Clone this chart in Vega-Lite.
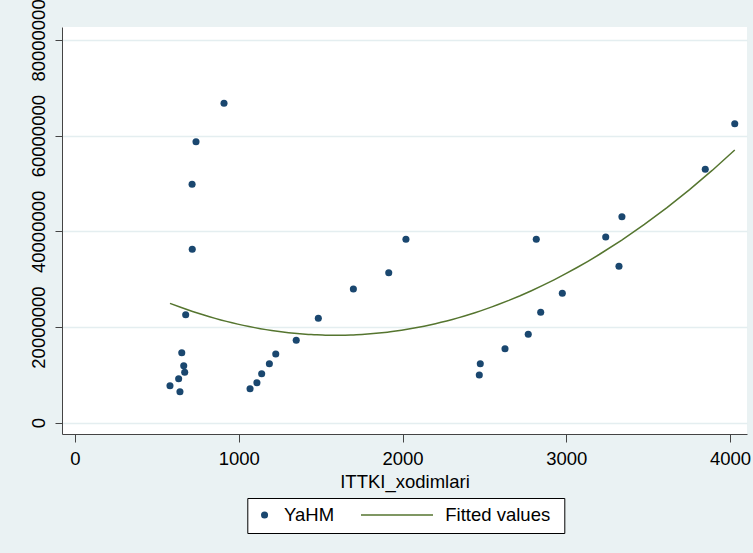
{
  "$schema": "https://vega.github.io/schema/vega-lite/v6.json",
  "autosize": "none",
  "width": 685,
  "height": 407,
  "padding": {"left": 62, "top": 27, "right": 6, "bottom": 119},
  "background": "#eaf2f3",
  "config": {
    "view": {"fill": "white", "stroke": null},
    "font": "Liberation Sans",
    "axis": {
      "labelFont": "Liberation Sans",
      "labelFontSize": 18.5,
      "labelColor": "#000",
      "titleFont": "Liberation Sans",
      "titleFontSize": 18.5,
      "titleFontWeight": "normal",
      "titleColor": "#000",
      "domainColor": "#444",
      "tickColor": "#444",
      "domainWidth": 1,
      "tickWidth": 1,
      "labelOverlap": false,
      "labelFlush": false
    },
    "legend": {
      "labelFont": "Liberation Sans",
      "labelFontSize": 18.5,
      "labelColor": "#000",
      "labelLimit": 300,
      "titleFont": "Liberation Sans",
      "titleFontSize": 18.5,
      "titleFontWeight": "normal",
      "titleLimit": 1000,
      "clipHeight": 18
    }
  },
  "data": {"values": [
    {"x": 910, "y": 66760000}, {"x": 739, "y": 58740000}, {"x": 715, "y": 49830000},
    {"x": 716, "y": 36250000}, {"x": 676, "y": 22580000}, {"x": 652, "y": 14630000},
    {"x": 664, "y": 11910000}, {"x": 670, "y": 10530000}, {"x": 633, "y": 9200000},
    {"x": 580, "y": 7730000}, {"x": 641, "y": 6480000}, {"x": 1069, "y": 7110000},
    {"x": 1111, "y": 8360000}, {"x": 1140, "y": 10240000}, {"x": 1187, "y": 12330000},
    {"x": 1226, "y": 14360000}, {"x": 1351, "y": 17220000}, {"x": 1486, "y": 21820000},
    {"x": 1700, "y": 27950000}, {"x": 1916, "y": 31350000}, {"x": 2021, "y": 38340000},
    {"x": 2469, "y": 9970000}, {"x": 2475, "y": 12330000}, {"x": 2626, "y": 15470000},
    {"x": 2768, "y": 18480000}, {"x": 2844, "y": 23080000}, {"x": 2817, "y": 38340000},
    {"x": 2976, "y": 27050000}, {"x": 3241, "y": 38820000}, {"x": 3322, "y": 32690000},
    {"x": 3340, "y": 43060000}, {"x": 3849, "y": 52970000}, {"x": 4029, "y": 62500000}
  ]},
  "encoding": {
    "x": {
      "field": "x", "type": "quantitative",
      "scale": {"domain": [-79.4, 4103.8], "nice": false, "zero": false},
      "axis": {
        "title": "ITTKI_xodimlari",
        "values": [0, 1000, 2000, 3000, 4000],
        "format": "d",
        "grid": false,
        "tickSize": 8,
        "labelPadding": 7,
        "titlePadding": 5
      }
    },
    "y": {
      "field": "y", "type": "quantitative",
      "scale": {"domain": [-2360000, 82710000], "nice": false, "zero": false},
      "axis": {
        "title": null,
        "values": [0, 20000000, 40000000, 60000000, 80000000],
        "format": "d",
        "grid": true,
        "gridColor": "#e4eef0",
        "gridWidth": 1.5,
        "tickSize": 7,
        "labelAngle": -90,
        "labelAlign": "center",
        "labelBaseline": "bottom",
        "labelPadding": 7
      }
    }
  },
  "layer": [
    {
      "mark": {"type": "point", "filled": true, "size": 50, "opacity": 1},
      "encoding": {
        "color": {
          "datum": "YaHM",
          "type": "nominal",
          "scale": {"domain": ["YaHM"], "range": ["#1a476f"]},
          "legend": {
            "orient": "none",
            "legendX": 185.3,
            "legendY": 471,
            "direction": "horizontal",
            "zindex": 1,
            "title": "\u200b\u00a0\u00a0\u00a0\u00a0\u00a0\u00a0\u00a0\u00a0\u00a0\u00a0\u00a0\u00a0\u00a0\u00a0\u00a0\u00a0\u00a0\u00a0\u00a0\u00a0\u00a0\u00a0\u00a0\u00a0\u00a0\u00a0\u00a0\u00a0\u00a0\u00a0\u00a0\u00a0\u00a0\u00a0\u00a0\u00a0\u00a0\u00a0\u00a0\u00a0\u00a0\u00a0\u00a0\u200b",
            "titleOrient": "right",
            "titlePadding": 0,
            "titleColor": "#fff",
            "padding": 8,
            "strokeColor": "#000",
            "fillColor": "#fff",
            "symbolType": "circle",
            "symbolSize": 50,
            "symbolStrokeWidth": 0,
            "labelOffset": 10.3
          }
        }
      }
    },
    {
      "transform": [
        {"regression": "y", "on": "x", "method": "poly", "order": 2}
      ],
      "mark": {"type": "line", "strokeWidth": 1.5},
      "encoding": {
        "stroke": {
          "datum": "Fitted values",
          "type": "nominal",
          "scale": {"domain": ["Fitted values"], "range": ["#55752f"]},
          "legend": {
            "orient": "none",
            "legendX": 298,
            "legendY": 479,
            "direction": "horizontal",
            "zindex": 2,
            "title": null,
            "padding": 0,
            "symbolType": "stroke",
            "symbolSize": 5184,
            "symbolStrokeWidth": 1.5,
            "labelOffset": 11.3
          }
        }
      }
    }
  ]
}
